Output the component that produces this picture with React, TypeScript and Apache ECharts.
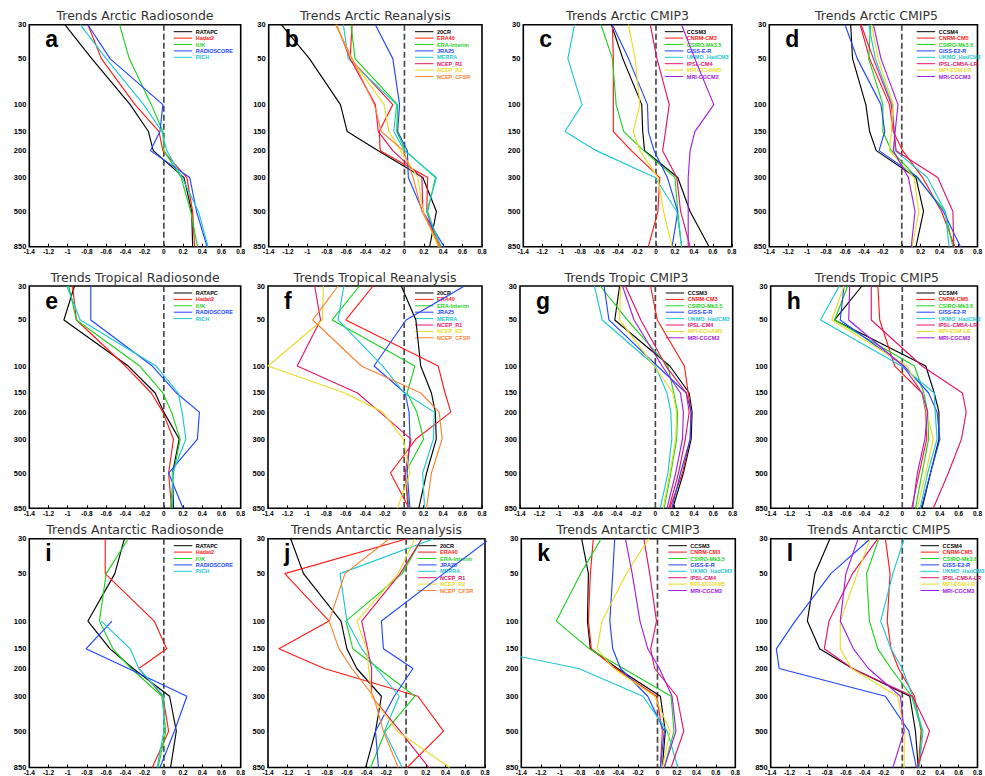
import { useEffect, useRef } from 'react';
import * as echarts from 'echarts';

// ---------- data ----------
const LEVELS = [30, 50, 100, 150, 200, 300, 500, 850];
const X_MIN = -1.4;
const X_MAX = 0.8;
const X_STEP = 0.2;

const RADIOSONDE = ['RATAPC', 'Hadat2', 'IUK', 'RADIOSCORE', 'RICH'];
const REANALYSIS = ['20CR', 'ERA40', 'ERA-Interim', 'JRA25', 'MERRA', 'NCEP_R1', 'NCEP_R2', 'NCEP_CFSR'];
const CMIP3 = ['CCSM3', 'CNRM-CM3', 'CSIRO-Mk3.5', 'GISS-E-R', 'UKMO_HadCM3', 'IPSL-CM4', 'MPI-ECHAM5', 'MRI-CGCM2'];
const CMIP5 = ['CCSM4', 'CNRM-CM5', 'CSIRO-Mk3.6', 'GISS-E2-R', 'UKMO_HadCM3', 'IPSL-CM5A-LR', 'MPI-ESM-LR', 'MRI-CGCM3'];

const TITLES = [
  'Trends Arctic Radiosonde', 'Trends Arctic Reanalysis', 'Trends Arctic CMIP3', 'Trends Arctic CMIP5',
  'Trends Tropical Radiosonde', 'Trends Tropical Reanalysis', 'Trends Tropic CMIP3', 'Trends Tropic CMIP5',
  'Trends Antarctic Radiosonde', 'Trends Antarctic Reanalysis', 'Trends Antarctic CMIP3', 'Trends Antarctic CMIP5',
];
const LETTERS = ['a', 'b', 'c', 'd', 'e', 'f', 'g', 'h', 'i', 'j', 'k', 'l'];

// values at LEVELS (30 ... 850 hPa), one row per dataset
const arcticRadiosonde = [
  [-1.03, -0.75, -0.35, -0.16, -0.11, 0.21, 0.29, 0.30],
  [-0.79, -0.65, -0.30, -0.05, -0.01, 0.24, 0.30, 0.32],
  [-0.46, -0.36, -0.13, -0.01, 0.00, 0.18, 0.28, 0.35],
  [-0.79, -0.56, -0.01, -0.04, -0.14, 0.27, 0.34, 0.45],
  [-0.87, -0.60, -0.21, -0.02, 0.03, 0.19, 0.36, 0.46],
];
const arcticReanalysis = [
  [-1.27, -0.98, -0.66, -0.59, -0.27, 0.19, 0.33, 0.26],
  [-0.54, -0.56, -0.12, -0.26, -0.25, 0.24, 0.23, 0.35],
  [-0.55, -0.51, -0.07, -0.08, 0.01, 0.32, 0.24, 0.36],
  [-0.30, -0.12, -0.05, -0.07, 0.03, 0.04, 0.19, 0.41],
  [-0.63, -0.58, -0.08, -0.11, 0.00, 0.33, 0.23, 0.38],
  [-0.70, -0.56, -0.30, -0.27, -0.12, 0.18, 0.19, 0.37],
  [-0.70, -0.55, -0.21, -0.16, -0.04, 0.14, 0.19, 0.35],
  [-0.71, -0.54, -0.31, -0.24, -0.01, 0.09, 0.18, 0.37],
];
const arcticCmip3 = [
  [-0.47, -0.35, -0.15, -0.14, -0.12, 0.23, 0.36, 0.56],
  [-0.46, -0.45, -0.45, -0.45, -0.26, 0.04, 0.02, -0.08],
  [-0.58, -0.46, -0.42, -0.34, -0.13, 0.20, 0.23, 0.27],
  [-0.46, -0.29, -0.09, -0.08, -0.02, 0.12, 0.23, 0.17],
  [-0.86, -0.93, -0.78, -0.96, -0.63, -0.01, 0.22, 0.27],
  [-0.06, 0.01, 0.14, 0.10, 0.07, 0.22, 0.26, 0.36],
  [-0.29, -0.22, -0.17, -0.24, -0.17, 0.02, 0.08, 0.17],
  [0.27, 0.41, 0.61, 0.41, 0.36, 0.34, 0.34, 0.34],
];
const arcticCmip5 = [
  [-0.54, -0.52, -0.38, -0.34, -0.27, 0.15, 0.23, 0.15],
  [-0.44, -0.34, -0.13, -0.09, 0.01, 0.22, 0.42, 0.56],
  [-0.33, -0.35, -0.20, -0.20, -0.11, 0.16, 0.46, 0.54],
  [-0.60, -0.47, -0.22, -0.18, -0.24, 0.17, 0.44, 0.62],
  [-0.35, -0.28, -0.10, -0.08, -0.07, 0.27, 0.46, 0.50],
  [-0.43, -0.30, -0.11, -0.08, -0.06, 0.38, 0.54, 0.55],
  [-0.32, -0.25, -0.09, -0.11, -0.13, 0.13, 0.18, 0.11],
  [-0.30, -0.22, -0.04, -0.07, -0.09, 0.07, 0.14, 0.10],
];
const tropicalRadiosonde = [
  [-0.93, -1.04, -0.37, -0.09, 0.00, 0.16, 0.09, 0.10],
  [-0.95, -0.91, -0.40, -0.13, -0.01, 0.10, 0.05, 0.08],
  [-0.99, -0.91, -0.25, -0.01, 0.08, 0.17, 0.10, 0.07],
  [-0.76, -0.76, -0.12, 0.13, 0.37, 0.35, 0.05, 0.20],
  [-1.01, -0.87, -0.08, 0.15, 0.19, 0.23, 0.09, 0.09],
];
const tropicalReanalysis = [
  [-0.03, 0.12, 0.17, 0.28, 0.32, 0.33, 0.23, 0.15],
  [-0.32, -0.60, 0.35, 0.42, 0.48, 0.12, -0.14, 0.05],
  [-0.46, -0.74, 0.11, 0.03, 0.13, 0.20, 0.01, 0.05],
  [0.62, 0.02, -0.31, 0.01, 0.05, 0.06, 0.03, 0.06],
  [-0.62, -0.68, -0.22, 0.00, 0.31, 0.30, 0.19, 0.21],
  [-0.92, -0.86, -1.10, -0.48, -0.25, 0.07, 0.01, 0.04],
  [-0.83, -0.84, -1.40, -0.61, -0.22, -0.01, 0.06, -0.07],
  [-0.68, -0.94, -0.44, 0.17, 0.36, 0.39, 0.28, 0.23],
];
const tropicCmip3 = [
  [-0.37, -0.42, 0.15, 0.35, 0.38, 0.37, 0.29, 0.18],
  [-0.05, 0.02, 0.30, 0.34, 0.37, 0.36, 0.28, 0.15],
  [-0.57, -0.29, 0.13, 0.19, 0.23, 0.22, 0.16, 0.09],
  [-0.53, -0.48, 0.02, 0.32, 0.37, 0.36, 0.26, 0.17],
  [-0.63, -0.55, 0.00, 0.12, 0.16, 0.17, 0.13, 0.05],
  [-0.31, -0.15, 0.11, 0.32, 0.35, 0.31, 0.24, 0.14],
  [-0.36, -0.37, -0.01, 0.18, 0.22, 0.21, 0.15, 0.08],
  [-0.34, -0.22, 0.07, 0.26, 0.29, 0.28, 0.21, 0.12],
];
const tropicCmip5 = [
  [-0.43, -0.72, 0.25, 0.34, 0.39, 0.39, 0.30, 0.21],
  [-0.26, -0.24, -0.08, 0.21, 0.25, 0.26, 0.18, 0.10],
  [-0.58, -0.72, 0.13, 0.23, 0.27, 0.28, 0.21, 0.14],
  [-0.62, -0.66, 0.02, 0.28, 0.37, 0.40, 0.30, 0.20],
  [-0.67, -0.87, -0.01, 0.34, 0.35, 0.37, 0.27, 0.19],
  [-0.33, -0.33, 0.21, 0.64, 0.68, 0.63, 0.49, 0.33],
  [-0.62, -0.75, 0.05, 0.21, 0.26, 0.33, 0.25, 0.16],
  [-0.56, -0.57, 0.01, 0.21, 0.27, 0.24, 0.16, 0.11],
];
const antarcticRadiosonde = [
  [-0.41, -0.51, -0.79, -0.56, -0.32, 0.06, 0.13, 0.07],
  [-0.61, -0.61, -0.10, 0.03, -0.26, -0.01, 0.05, -0.12],
  [-0.37, -0.60, -0.67, -0.53, -0.34, -0.02, 0.02, -0.06],
  [null, null, -0.54, -0.81, -0.37, 0.24, 0.11, -0.04],
  [null, null, -0.65, -0.35, -0.26, 0.00, 0.00, -0.07],
];
const antarcticReanalysis = [
  [-1.17, -1.04, -0.66, -0.60, -0.50, -0.25, -0.31, -0.41],
  [0.01, -1.23, -0.78, -1.29, -0.83, 0.12, 0.38, 0.01],
  [0.16, -0.04, -0.61, -0.54, -0.28, 0.09, -0.21, -0.36],
  [0.85, 0.38, -0.25, -0.23, 0.07, -0.12, -0.31, -0.28],
  [0.28, -0.67, -0.60, -0.45, -0.30, -0.07, -0.22, -0.04],
  [0.16, -0.06, -0.45, -0.39, -0.35, -0.35, -0.06, 0.23],
  [0.09, -0.08, -0.50, -0.40, -0.38, -0.35, -0.09, 0.44],
  [-0.17, -0.62, -0.78, -0.68, -0.55, -0.33, -0.23, -0.08],
];
const antarcticCmip3 = [
  [-0.78, -0.71, -0.72, -0.69, -0.41, 0.03, 0.08, 0.05],
  [-0.66, -0.69, -0.71, -0.68, -0.43, -0.01, 0.05, 0.03],
  [-0.58, -0.79, -1.04, -0.70, -0.35, 0.14, 0.17, 0.07],
  [-0.44, -0.46, -0.49, -0.46, -0.38, -0.10, 0.07, 0.03],
  [-2.0, -2.0, -2.0, -1.8, -0.81, -0.15, 0.10, 0.21],
  [-0.14, -0.08, -0.01, -0.07, -0.03, 0.20, 0.27, 0.14],
  [-0.09, -0.32, -0.57, -0.62, -0.45, -0.03, 0.13, 0.05],
  [-0.33, -0.26, -0.18, -0.10, 0.02, 0.15, 0.19, 0.07],
];
const antarcticCmip5 = [
  [-0.77, -0.93, -1.01, -0.88, -0.53, 0.08, 0.14, 0.17],
  [-0.18, -0.13, -0.16, -0.12, -0.04, 0.13, 0.20, 0.17],
  [-0.25, -0.38, -0.35, -0.26, -0.12, 0.10, 0.21, 0.18],
  [-0.34, -0.76, -1.14, -1.34, -1.31, -0.18, 0.07, 0.15],
  [0.02, -0.10, -0.23, -0.12, 0.00, 0.11, 0.22, 0.18],
  [-0.26, -0.53, -0.78, -0.83, -0.53, 0.11, 0.29, 0.16],
  [-0.34, -0.48, -0.66, -0.66, -0.54, -0.05, 0.02, 0.02],
  [-0.47, -0.60, -0.66, -0.52, -0.36, -0.02, 0.02, -0.10],
];

const PANEL_NAMES = [
  RADIOSONDE, REANALYSIS, CMIP3, CMIP5,
  RADIOSONDE, REANALYSIS, CMIP3, CMIP5,
  RADIOSONDE, REANALYSIS, CMIP3, CMIP5,
];
const PANEL_VALUES = [
  arcticRadiosonde, arcticReanalysis, arcticCmip3, arcticCmip5,
  tropicalRadiosonde, tropicalReanalysis, tropicCmip3, tropicCmip5,
  antarcticRadiosonde, antarcticReanalysis, antarcticCmip3, antarcticCmip5,
];

// ---------- styles / layout ----------
const RADIOSONDE_COLORS = ['#000000', '#ff1a1a', '#1ed21e', '#2046ff', '#1ec8d2'];
const EIGHT_COLORS = ['#000000', '#ff1a1a', '#1ed21e', '#2046ff', '#1ec8d2', '#e4146a', '#e8dc28', '#fa8232'];
const CMIP_COLORS = ['#000000', '#ff1a1a', '#1ed21e', '#2046ff', '#1ec8d2', '#e4146a', '#e8dc28', '#a020e0'];
const PANEL_COLORS = [
  RADIOSONDE_COLORS, EIGHT_COLORS, CMIP_COLORS, CMIP_COLORS,
  RADIOSONDE_COLORS, EIGHT_COLORS, CMIP_COLORS, CMIP_COLORS,
  RADIOSONDE_COLORS, EIGHT_COLORS, CMIP_COLORS, CMIP_COLORS,
];

const LAYOUT = [
  { left: 29.3, top: 24.7, width: 211.4, height: 222 },
  { left: 268.7, top: 24.7, width: 213.3, height: 222 },
  { left: 523.3, top: 24.7, width: 208.5, height: 222 },
  { left: 769.3, top: 24.7, width: 214.4, height: 222 },
  { left: 29.3, top: 286, width: 211.4, height: 222.3 },
  { left: 268, top: 286, width: 214, height: 222.3 },
  { left: 520, top: 286, width: 212.7, height: 222.3 },
  { left: 770.7, top: 286, width: 212.7, height: 222.3 },
  { left: 29.3, top: 538.7, width: 211.4, height: 230.6 },
  { left: 268, top: 538.7, width: 217, height: 230.6 },
  { left: 521.3, top: 538.7, width: 214, height: 230.6 },
  { left: 770.7, top: 538.7, width: 216.8, height: 230.6 },
];

const FONT = '"Liberation Sans", Arial, sans-serif';
const TITLE_FONT = '"DejaVu Sans", sans-serif';
const LOG_MIN = Math.log10(LEVELS[0]);
const LOG_MAX = Math.log10(LEVELS[LEVELS.length - 1]);

function fmtX(v: number) {
  const r = Math.round(v * 10) / 10;
  return String(r === 0 ? 0 : r);
}

function buildOption() {
  const grid: any[] = [];
  const xAxis: any[] = [];
  const yAxis: any[] = [];
  const series: any[] = [];
  const graphic: any[] = [];

  PANEL_VALUES.forEach((rows, i) => {
    const L = LAYOUT[i];
    const names = PANEL_NAMES[i];
    const colors = PANEL_COLORS[i];
    grid.push({
      left: L.left, top: L.top, width: L.width, height: L.height,
      show: true, borderColor: '#000', borderWidth: 1.6, backgroundColor: 'transparent',
    });
    xAxis.push({
      type: 'value', gridIndex: i, min: X_MIN, max: X_MAX, interval: X_STEP,
      axisLine: { show: false },
      axisTick: { show: true, inside: true, length: 3, lineStyle: { color: '#000', width: 1 } },
      splitLine: { show: false },
      axisLabel: {
        formatter: fmtX, fontSize: 6.5, fontWeight: 'bold', color: '#000', margin: 1.5,
        fontFamily: FONT, showMinLabel: true, showMaxLabel: true,
      },
    });
    yAxis.push({
      type: 'value', gridIndex: i, inverse: true, min: LOG_MIN, max: LOG_MAX,
      axisLine: { show: false },
      axisTick: { show: false },
      splitLine: { show: false },
      axisLabel: {
        customValues: LEVELS.map((p) => Math.log10(p)),
        formatter: (v: number) => String(Math.round(Math.pow(10, v))),
        fontSize: 7.5, fontWeight: 'bold', color: '#000', margin: 3, fontFamily: FONT,
      },
    });
    // zero line
    series.push({
      type: 'line', xAxisIndex: i, yAxisIndex: i, name: 'zero', silent: true,
      data: [[0, LOG_MIN], [0, LOG_MAX]], symbol: 'none',
      lineStyle: { color: '#4a4a4a', width: 1.7, type: [6, 3] },
      z: 1,
    });
    rows.forEach((vals, k) => {
      series.push({
        type: 'line', xAxisIndex: i, yAxisIndex: i, name: names[k], silent: true,
        symbol: 'none', clip: true,
        data: LEVELS.map((p, j) => [vals[j], Math.log10(p)]).filter((d) => d[0] !== null),
        lineStyle: { color: colors[k], width: 1.15 },
        z: 2,
      });
    });

    const right = L.left + L.width;
    // title
    graphic.push({
      type: 'text', x: L.left + L.width / 2, y: L.top - 9,
      style: {
        text: TITLES[i], font: `12.5px ${TITLE_FONT}`, fill: '#333',
        align: 'center', verticalAlign: 'middle', textAlign: 'center', textVerticalAlign: 'middle',
      },
    });
    // letter
    graphic.push({
      type: 'text', x: L.left + 16, y: L.top + 26,
      style: {
        text: LETTERS[i], font: `bold 23px ${FONT}`, fill: '#000',
        align: 'left', verticalAlign: 'bottom', textAlign: 'left', textVerticalAlign: 'bottom',
      },
    });
    // legend
    names.forEach((nm, k) => {
      const y = L.top + 7 + k * 6.4;
      graphic.push({
        type: 'line', shape: { x1: right - 67, y1: y, x2: right - 48.5, y2: y },
        style: { stroke: colors[k], lineWidth: 1 },
      });
      graphic.push({
        type: 'text', x: right - 45, y,
        style: {
          text: nm, font: `bold 5.5px ${FONT}`, fill: colors[k],
          align: 'left', verticalAlign: 'middle', textAlign: 'left', textVerticalAlign: 'middle',
        },
      });
    });
  });

  return { animation: false, backgroundColor: '#fff', grid, xAxis, yAxis, series, graphic };
}

export default function App() {
  const ref = useRef<HTMLDivElement>(null);
  useEffect(() => {
    if (!ref.current) return;
    const chart = echarts.init(ref.current, undefined, { renderer: 'svg' });
    chart.setOption(buildOption() as any);
    return () => chart.dispose();
  }, []);
  return (
    <div
      ref={ref}
      style={{ position: 'absolute', left: 0, top: 0, width: 985, height: 776, background: '#fff' }}
    />
  );
}
